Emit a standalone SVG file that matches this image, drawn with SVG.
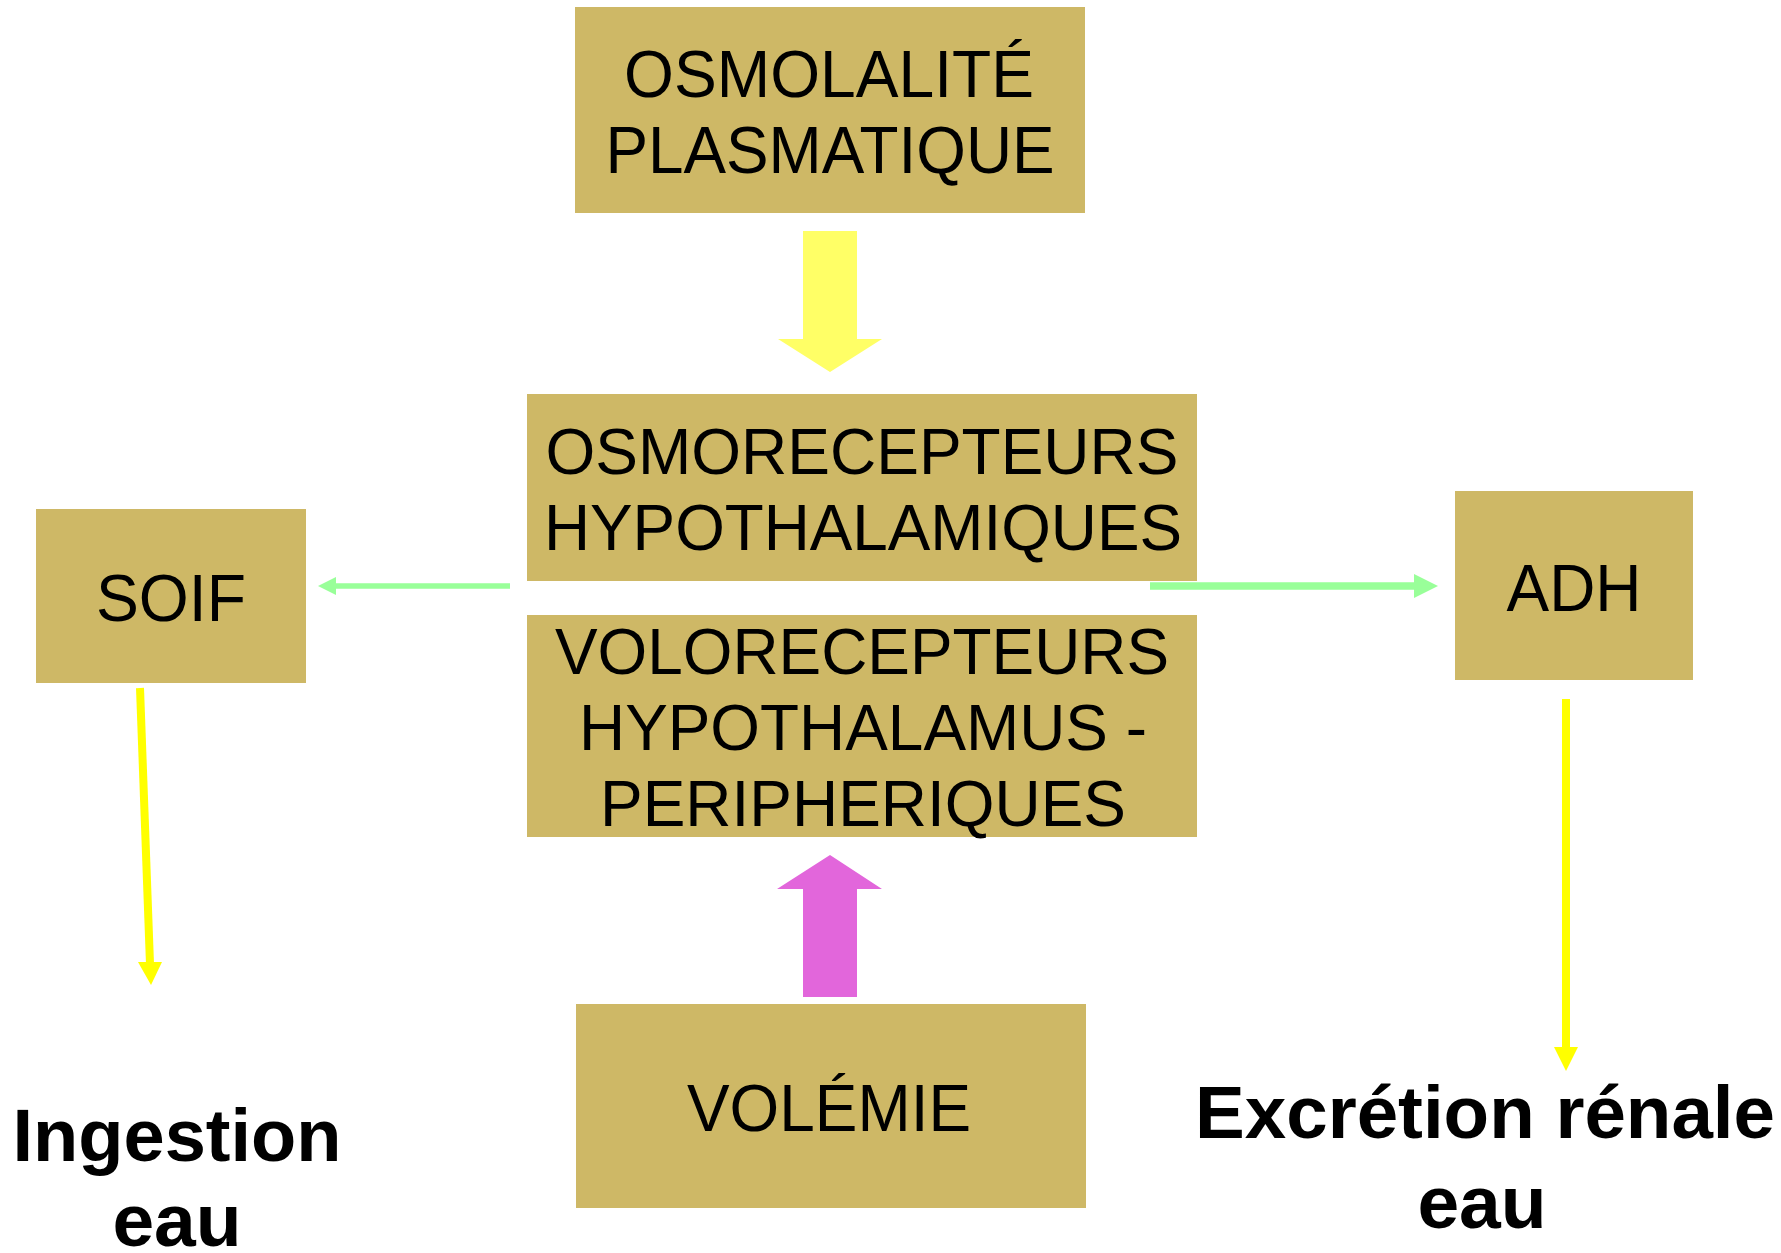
<svg xmlns="http://www.w3.org/2000/svg" width="1781" height="1253" viewBox="0 0 1781 1253">
<style>
.box{fill:#CEB866}
.t{font-family:"Liberation Sans",Arial,sans-serif;fill:#000;text-anchor:middle}
.t66{font-size:66px}
.t64{font-size:64px}
.b{font-family:"Liberation Sans",Arial,sans-serif;font-weight:bold;font-size:75px;fill:#000;text-anchor:middle}
.green{stroke:#99FF99;fill:none}
.greenf{fill:#99FF99}
.yl{stroke:#FFFF00;fill:none;stroke-width:8}
.ylf{fill:#FFFF00}
.bigy{fill:#FFFF66}
.pink{fill:#E266DB}
</style>
<rect width="1781" height="1253" fill="#fff"/>
<g id="connectors">
  <polygon class="bigy" points="803,231 857,231 857,339 882,339 830,372 778,339 803,339"/>
  <polygon class="pink" points="803,997 857,997 857,889 882,889 830,855 777,889 803,889"/>
  <line class="green" x1="510" y1="586" x2="334" y2="586" stroke-width="5.5"/>
  <polygon class="greenf" points="336,577 318,586 336,595"/>
  <line class="green" x1="1150" y1="586" x2="1416" y2="586" stroke-width="7.5"/>
  <polygon class="greenf" points="1414,574 1438,586 1414,598"/>
  <line class="yl" x1="140" y1="688" x2="150" y2="964"/>
  <polygon class="ylf" points="138,962 162,962 151,985"/>
  <line class="yl" x1="1566" y1="699" x2="1566" y2="1049"/>
  <polygon class="ylf" points="1554,1047 1578,1047 1566,1071"/>
</g>
<g id="osmolalite">
  <rect class="box" x="575" y="7" width="510" height="206"/>
  <text class="t t66" x="829" y="97" textLength="410" lengthAdjust="spacingAndGlyphs">OSMOLALITÉ</text>
  <text class="t t66" x="830" y="173" textLength="449" lengthAdjust="spacingAndGlyphs">PLASMATIQUE</text>
</g>
<g id="osmorecepteurs">
  <rect class="box" x="527" y="394" width="670" height="187"/>
  <text class="t t64" x="862" y="474" textLength="633" lengthAdjust="spacingAndGlyphs">OSMORECEPTEURS</text>
  <text class="t t64" x="863" y="550" textLength="638" lengthAdjust="spacingAndGlyphs">HYPOTHALAMIQUES</text>
</g>
<g id="volorecepteurs">
  <rect class="box" x="527" y="615" width="670" height="222"/>
  <text class="t t64" x="862" y="674" textLength="614" lengthAdjust="spacingAndGlyphs">VOLORECEPTEURS</text>
  <text class="t t64" x="863" y="750" textLength="568" lengthAdjust="spacingAndGlyphs">HYPOTHALAMUS -</text>
  <text class="t t64" x="863" y="826" textLength="526" lengthAdjust="spacingAndGlyphs">PERIPHERIQUES</text>
</g>
<g id="soif">
  <rect class="box" x="36" y="509" width="270" height="174"/>
  <text class="t t66" x="171" y="621" textLength="150" lengthAdjust="spacingAndGlyphs">SOIF</text>
</g>
<g id="adh">
  <rect class="box" x="1455" y="491" width="238" height="189"/>
  <text class="t t66" x="1574" y="611" textLength="135" lengthAdjust="spacingAndGlyphs">ADH</text>
</g>
<g id="volemie">
  <rect class="box" x="576" y="1004" width="510" height="204"/>
  <text class="t t66" x="829" y="1131" textLength="284" lengthAdjust="spacingAndGlyphs">VOLÉMIE</text>
</g>
<g id="ingestion">
  <text class="b" x="177" y="1161" textLength="329" lengthAdjust="spacingAndGlyphs">Ingestion</text>
  <text class="b" x="177" y="1246">eau</text>
</g>
<g id="excretion">
  <text class="b" x="1485" y="1138" textLength="580" lengthAdjust="spacingAndGlyphs">Excrétion rénale</text>
  <text class="b" x="1482" y="1228">eau</text>
</g>
</svg>
